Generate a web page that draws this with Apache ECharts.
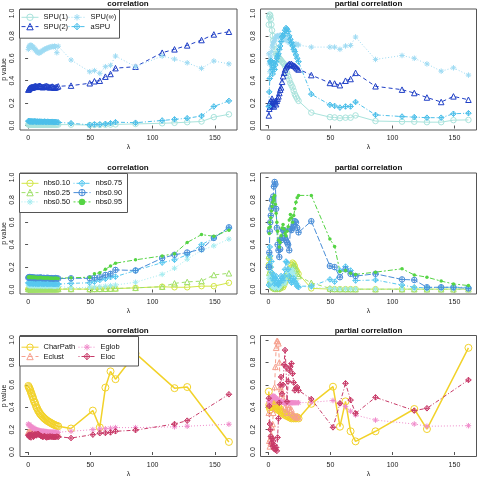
<!DOCTYPE html>
<html><head><meta charset="utf-8">
<script src="https://cdn.jsdelivr.net/npm/echarts@6/dist/echarts.min.js"></script>
<style>html,body{margin:0;padding:0;background:#fff}#c{width:478px;height:479px}</style>
</head><body><div id="c"></div>
<script>
// ---------- data ----------
const lambdaDense = [0.2,0.6,1.0,1.4,1.8, 2.3,2.8,3.3,3.8,4.3, 4.9,5.5,6.1,6.7,7.3, 8.0,8.7,9.4,10.1,10.9, 11.7,12.5,13.3,14.1,14.9, 15.8,16.7,17.6,18.5,19.4, 20.3,21.2,22.1,23.1,24.2];
const lambdaSparse = [34.5,49.5,53.3,57.6,62.1,66.2,70.2,86.3,107.7,117.6,127.8,139.3,149.2,161.3];
const lambdaSparseNet = [34.5,52.0,57.6,62.1,66.2,70.2,86.3,117.6,127.8,161.3];
const xTicks = [0,50,100,150];
const yTicks = [0,0.2,0.4,0.6,0.8,1.0];

// row 1: correlation
const spu1Cor = [0.010,0.008,0.009,0.007,0.008, 0.008,0.007,0.009,0.008,0.007, 0.008,0.009,0.008,0.007,0.008, 0.008,0.009,0.008,0.007,0.008, 0.008,0.007,0.008,0.009,0.008, 0.007,0.008,0.008,0.007,0.008, 0.009,0.008,0.007,0.008,0.008,
  0.008,0.004,0.006,0.006,0.007,0.008,0.010,0.014,0.020,0.024,0.030,0.036,0.075,0.100];
const spu2Cor = [0.320,0.325,0.330,0.335,0.338, 0.340,0.342,0.338,0.345,0.342, 0.348,0.350,0.352,0.348,0.345, 0.350,0.352,0.355,0.350,0.346, 0.342,0.345,0.348,0.350,0.352, 0.348,0.344,0.340,0.345,0.348, 0.342,0.338,0.340,0.345,0.350,
  0.356,0.377,0.395,0.400,0.436,0.460,0.512,0.525,0.650,0.680,0.715,0.763,0.813,0.837];
const spuInfCor = [0.680,0.695,0.705,0.715,0.712, 0.718,0.710,0.705,0.700,0.695, 0.688,0.680,0.672,0.665,0.658, 0.650,0.646,0.650,0.656,0.662, 0.668,0.674,0.680,0.684,0.688, 0.692,0.696,0.700,0.702,0.706, 0.703,0.708,0.704,0.650,0.708,
  0.585,0.480,0.490,0.466,0.525,0.537,0.620,0.525,0.620,0.593,0.560,0.510,0.576,0.550];
const aspuCor = [0.040,0.038,0.036,0.037,0.035, 0.038,0.036,0.034,0.037,0.035, 0.036,0.038,0.035,0.034,0.036, 0.035,0.033,0.036,0.034,0.035, 0.033,0.034,0.036,0.032,0.033, 0.035,0.031,0.033,0.032,0.034, 0.030,0.032,0.031,0.030,0.028,
  0.020,0.006,0.010,0.010,0.015,0.020,0.030,0.025,0.045,0.055,0.065,0.085,0.170,0.220];
// row 1: partial correlation
const spu1Par = [0.90,0.97,0.99,0.98,0.95, 0.90,0.85,0.80,0.76,0.72, 0.68,0.66,0.64,0.63,0.62, 0.61,0.60,0.59,0.58,0.57, 0.56,0.55,0.53,0.50,0.47, 0.44,0.41,0.38,0.36,0.34, 0.31,0.28,0.26,0.24,0.22,
  0.115,0.075,0.072,0.066,0.070,0.070,0.090,0.040,0.035,0.034,0.030,0.030,0.048,0.050];
const spu2Par = [0.09,0.15,0.20,0.17,0.22, 0.19,0.24,0.18,0.21,0.17, 0.20,0.22,0.19,0.22,0.24, 0.26,0.29,0.32,0.34,0.39, 0.44,0.47,0.50,0.52,0.53, 0.54,0.55,0.545,0.55,0.54, 0.535,0.53,0.52,0.51,0.50,
  0.450,0.380,0.375,0.360,0.400,0.415,0.470,0.350,0.320,0.290,0.250,0.210,0.260,0.230];
const spuInfPar = [0.64,0.55,0.48,0.58,0.62, 0.66,0.70,0.72,0.74,0.75, 0.76,0.78,0.79,0.80,0.80, 0.79,0.80,0.81,0.80,0.80, 0.79,0.78,0.77,0.76,0.76, 0.75,0.74,0.74,0.73,0.73, 0.72,0.72,0.73,0.72,0.72,
  0.700,0.700,0.700,0.680,0.710,0.715,0.790,0.590,0.625,0.600,0.550,0.485,0.515,0.450];
const aspuPar = [0.17,0.30,0.42,0.57,0.58, 0.55,0.50,0.46,0.52,0.56, 0.50,0.54,0.57,0.60,0.62, 0.64,0.68,0.71,0.75,0.79, 0.80,0.82,0.85,0.87,0.86, 0.84,0.80,0.77,0.74,0.71, 0.68,0.66,0.63,0.60,0.57,
  0.280,0.185,0.175,0.160,0.170,0.170,0.210,0.095,0.080,0.075,0.070,0.070,0.105,0.110];

// row 2: correlation
const nbs10Cor = [0.004,0.003,0.003,0.002,0.003, 0.003,0.002,0.003,0.003,0.002, 0.003,0.003,0.002,0.003,0.003, 0.002,0.003,0.003,0.002,0.003, 0.003,0.002,0.003,0.003,0.002, 0.003,0.003,0.002,0.003,0.003, 0.002,0.003,0.003,0.002,0.003,
  0.004,0.003,0.004,0.005,0.006,0.007,0.008,0.015,0.025,0.020,0.020,0.030,0.030,0.060];
const nbs25Cor = [0.006,0.005,0.005,0.004,0.005, 0.005,0.004,0.005,0.005,0.004, 0.005,0.005,0.004,0.005,0.005, 0.004,0.005,0.005,0.004,0.005, 0.005,0.004,0.005,0.005,0.004, 0.005,0.005,0.004,0.005,0.005, 0.004,0.005,0.005,0.004,0.005,
  0.005,0.004,0.005,0.006,0.007,0.008,0.010,0.015,0.025,0.055,0.068,0.075,0.130,0.145];
const nbs50Cor = [0.040,0.035,0.038,0.033,0.036, 0.034,0.037,0.032,0.035,0.033, 0.036,0.034,0.031,0.035,0.033, 0.030,0.034,0.032,0.035,0.031, 0.033,0.030,0.032,0.034,0.031, 0.029,0.032,0.030,0.033,0.031, 0.028,0.030,0.029,0.031,0.028,
  0.015,0.020,0.022,0.025,0.030,0.035,0.040,0.065,0.135,0.190,0.270,0.350,0.390,0.450];
const nbs75Cor = [0.060,0.055,0.058,0.052,0.056, 0.054,0.057,0.053,0.055,0.052, 0.056,0.054,0.051,0.055,0.053, 0.050,0.054,0.052,0.055,0.051, 0.053,0.050,0.052,0.054,0.051, 0.049,0.052,0.050,0.053,0.051, 0.048,0.050,0.049,0.051,0.048,
  0.055,0.060,0.070,0.085,0.095,0.110,0.115,0.170,0.240,0.265,0.310,0.400,0.460,0.545];
const nbs90Cor = [0.105,0.110,0.108,0.112,0.106, 0.110,0.104,0.108,0.106,0.102, 0.107,0.104,0.100,0.105,0.103, 0.106,0.102,0.104,0.108,0.103, 0.100,0.104,0.102,0.099,0.103, 0.105,0.101,0.098,0.102,0.100, 0.097,0.100,0.102,0.099,0.098,
  0.100,0.100,0.105,0.110,0.130,0.140,0.175,0.170,0.280,0.310,0.330,0.360,0.460,0.555];
const nbs95Cor = [0.112,0.108,0.115,0.110,0.113, 0.108,0.112,0.106,0.110,0.108, 0.111,0.107,0.104,0.109,0.106, 0.103,0.107,0.105,0.109,0.104, 0.102,0.106,0.104,0.100,0.103, 0.106,0.102,0.099,0.103,0.101, 0.098,0.101,0.103,0.100,0.099,
  0.105,0.110,0.140,0.150,0.180,0.210,0.235,0.265,0.300,0.320,0.420,0.490,0.475,0.530];
// row 2: partial correlation
const nbs10Par = [0.22,0.28,0.20,0.15,0.10, 0.06,0.04,0.02,0.01,0.01, 0.005,0.005,0.01,0.005,0.005, 0.01,0.005,0.01,0.02,0.03, 0.02,0.04,0.06,0.08,0.10, 0.13,0.16,0.19,0.22,0.24, 0.23,0.21,0.18,0.16,0.14,
  0.010,0.004,0.003,0.003,0.003,0.003,0.003,0.003,0.003,0.003,0.003,0.003,0.003,0.003];
const nbs25Par = [0.30,0.15,0.08,0.05,0.10, 0.06,0.03,0.05,0.02,0.04, 0.02,0.01,0.03,0.02,0.01, 0.02,0.03,0.02,0.04,0.06, 0.08,0.10,0.12,0.11,0.13, 0.15,0.16,0.14,0.18,0.20, 0.22,0.21,0.18,0.14,0.12,
  0.060,0.010,0.005,0.004,0.004,0.004,0.003,0.003,0.003,0.003,0.002,0.002,0.002,0.002];
const nbs50Par = [0.10,0.18,0.12,0.08,0.05, 0.03,0.06,0.04,0.02,0.03, 0.01,0.02,0.04,0.03,0.02, 0.01,0.02,0.03,0.05,0.08, 0.10,0.07,0.05,0.08,0.12, 0.15,0.17,0.16,0.14,0.18, 0.15,0.12,0.08,0.05,0.03,
  0.020,0.008,0.006,0.005,0.005,0.005,0.005,0.004,0.004,0.004,0.003,0.003,0.003,0.003];
const nbs75Par = [0.04,0.22,0.38,0.30,0.20, 0.25,0.15,0.10,0.13,0.08, 0.05,0.10,0.12,0.08,0.05, 0.04,0.06,0.08,0.12,0.10, 0.08,0.12,0.18,0.25,0.24, 0.18,0.12,0.08,0.06,0.08, 0.10,0.07,0.05,0.03,0.02,
  0.030,0.090,0.070,0.170,0.205,0.170,0.080,0.085,0.040,0.020,0.015,0.020,0.020,0.020];
const nbs90Par = [0.20,0.33,0.52,0.60,0.66, 0.72,0.80,0.75,0.83,0.92, 0.96,0.94,0.72,0.55,0.40, 0.35,0.29,0.36,0.44,0.46, 0.53,0.53,0.46,0.44,0.42, 0.40,0.35,0.54,0.53,0.55, 0.58,0.61,0.60,0.55,0.51,
  0.610,0.210,0.200,0.110,0.180,0.140,0.120,0.140,0.090,0.085,0.020,0.020,0.020,0.010];
const nbs95Par = [0.55,0.50,0.60,0.56,0.64, 0.70,0.74,0.78,0.82,0.80, 0.84,0.76,0.68,0.60,0.52, 0.44,0.38,0.42,0.48,0.55, 0.58,0.54,0.50,0.48,0.52, 0.56,0.62,0.67,0.64,0.60, 0.66,0.72,0.78,0.82,0.84,
  0.840,0.450,0.385,0.160,0.170,0.145,0.135,0.155,0.185,0.130,0.110,0.075,0.050,0.035];

// row 3: correlation
const charCor = [0.590,0.580,0.570,0.560,0.550, 0.530,0.520,0.500,0.490,0.470, 0.450,0.440,0.420,0.400,0.390, 0.370,0.360,0.345,0.335,0.325, 0.315,0.305,0.298,0.290,0.283, 0.276,0.270,0.264,0.258,0.252, 0.247,0.242,0.238,0.234,0.230,
  0.210,0.370,0.220,0.575,0.720,0.650,0.880,0.570,0.580,0.090];
const eclustCor = [0.180,0.178,0.182,0.176,0.180, 0.175,0.178,0.172,0.176,0.170, 0.174,0.172,0.168,0.170,0.166, 0.168,0.165,0.166,0.164,0.165, 0.163,0.164,0.162,0.163,0.161, 0.162,0.160,0.161,0.160,0.159, 0.160,0.158,0.159,0.157,0.158];
const eglobCor = [0.250,0.245,0.240,0.236,0.232, 0.228,0.224,0.220,0.216,0.212, 0.208,0.205,0.202,0.199,0.196, 0.194,0.192,0.190,0.188,0.187, 0.186,0.185,0.184,0.183,0.182, 0.181,0.180,0.180,0.179,0.178, 0.178,0.177,0.177,0.176,0.176,
  0.185,0.200,0.205,0.208,0.212,0.218,0.218,0.225,0.230,0.248];
const elocCor = [0.150,0.145,0.135,0.155,0.140, 0.130,0.150,0.160,0.145,0.135, 0.150,0.158,0.155,0.148,0.160, 0.162,0.155,0.150,0.145,0.140, 0.135,0.138,0.142,0.135,0.130, 0.138,0.133,0.140,0.135,0.138, 0.132,0.136,0.134,0.138,0.135,
  0.125,0.155,0.168,0.170,0.175,0.185,0.195,0.250,0.280,0.515];
// row 3: partial correlation
const charPar = [0.54,0.42,0.40,0.38,0.41, 0.43,0.40,0.42,0.44,0.43, 0.42,0.40,0.41,0.39,0.38, 0.40,0.37,0.38,0.36,0.35, 0.34,0.35,0.33,0.34,0.32, 0.33,0.31,0.32,0.30,0.31, 0.30,0.31,0.30,0.31,0.30,
  0.430,0.583,0.226,0.452,0.185,0.095,0.185,0.384,0.205,0.930];
const eclustPar = [0.35,0.10,0.05,0.12,0.08, 0.15,0.22,0.25,0.35,0.45, 0.58,0.76,0.93,0.99,0.99, 0.97,0.80,0.58,0.56,0.52, 0.48,0.45,0.40,0.38,0.35, 0.42,0.40,0.36,0.38,0.34, 0.33,0.32,0.31,0.32,0.31];
const eglobPar = [0.45,0.42,0.44,0.46,0.47, 0.48,0.49,0.50,0.49,0.50, 0.49,0.48,0.48,0.47,0.47, 0.46,0.46,0.45,0.45,0.45, 0.44,0.44,0.44,0.44,0.44, 0.44,0.44,0.44,0.44,0.44, 0.44,0.44,0.44,0.44,0.44,
  0.443,0.460,0.430,0.405,0.365,0.330,0.285,0.250,0.230,0.235];
const elocPar = [0.48,0.41,0.25,0.20,0.14, 0.08,0.12,0.05,0.10,0.03, 0.06,0.02,0.04,0.01,0.13, 0.30,0.44,0.60,0.67,0.52, 0.60,0.78,0.91,0.76,0.45, 0.63,0.73,0.76,0.79,0.70, 0.62,0.55,0.57,0.58,0.55,
  0.473,0.220,0.435,0.613,0.464,0.345,0.488,0.370,0.390,0.643];

// legend columns (R legend, ncol = 2)
const legendCols = [
  [['SPU(1)','SPU(2)'], ['SPU(∞)','aSPU']],
  [['nbs0.10','nbs0.25','nbs0.50'], ['nbs0.75','nbs0.90','nbs0.95']],
  [['CharPath','Eclust'], ['Eglob','Eloc']]
];

// ---------- styles ----------
const FONT = '"Liberation Sans", Arial, Helvetica, sans-serif';
const STAR = 'path://M5 0 L5 10 M0 5 L10 5 M1.46 1.46 L8.54 8.54 M1.46 8.54 L8.54 1.46';
const DPLUS = 'path://M5 0 L10 5 L5 10 L0 5 Z M5 0 L5 10 M0 5 L10 5';
const CPLUS = 'path://M0 5 A5 5 0 1 0 10 5 A5 5 0 1 0 0 5 Z M5 0 L5 10 M0 5 L10 5';
const styleOf = {
  'SPU(1)':  {color:'#a9e3dc', symbol:'circle',   dash:'solid'},
  'SPU(2)':  {color:'#1f3fc6', symbol:'triangle', dash:[4,3]},
  'SPU(∞)':  {color:'#9edbf3', symbol:STAR,       dash:[1,2]},
  'aSPU':    {color:'#4cbfea', symbol:DPLUS,      dash:[1,2,4,2]},
  'nbs0.10': {color:'#d2e646', symbol:'circle',   dash:'solid'},
  'nbs0.25': {color:'#9fe06a', symbol:'triangle', dash:[4,3]},
  'nbs0.50': {color:'#a4ecf0', symbol:STAR,       dash:[1,2]},
  'nbs0.75': {color:'#58c8f0', symbol:DPLUS,      dash:[1,2,4,2]},
  'nbs0.90': {color:'#4a8ed8', symbol:CPLUS,      dash:[6,2]},
  'nbs0.95': {color:'#55d444', symbol:'circle',   dash:[2,2,5,2], filled:true, size:3.5},
  'CharPath':{color:'#f2d22a', symbol:'circle',   dash:'solid', size:7, width:1.5},
  'Eclust':  {color:'#f6a08e', symbol:'triangle', dash:[4,3]},
  'Eglob':   {color:'#f08ccb', symbol:STAR,       dash:[1,2]},
  'Eloc':    {color:'#c83a68', symbol:DPLUS,      dash:[1,2,4,2]}
};

const lamAll = lambdaDense.concat(lambdaSparse);
const lamNet = lambdaDense.concat(lambdaSparseNet);
function zip(lx, vals){ return vals.map((v,i)=>[lx[i], v]); }

const panels = [
  {title:'correlation', lx:lamAll, s:[['SPU(1)',spu1Cor],['SPU(2)',spu2Cor],['SPU(∞)',spuInfCor],['aSPU',aspuCor]]},
  {title:'partial correlation', lx:lamAll, s:[['SPU(1)',spu1Par],['SPU(2)',spu2Par],['SPU(∞)',spuInfPar],['aSPU',aspuPar]]},
  {title:'correlation', lx:lamAll, s:[['nbs0.10',nbs10Cor],['nbs0.25',nbs25Cor],['nbs0.50',nbs50Cor],['nbs0.75',nbs75Cor],['nbs0.90',nbs90Cor],['nbs0.95',nbs95Cor]]},
  {title:'partial correlation', lx:lamAll, s:[['nbs0.10',nbs10Par],['nbs0.25',nbs25Par],['nbs0.50',nbs50Par],['nbs0.75',nbs75Par],['nbs0.90',nbs90Par],['nbs0.95',nbs95Par]]},
  {title:'correlation', lx:lamNet, s:[['CharPath',charCor],['Eclust',eclustCor],['Eglob',eglobCor],['Eloc',elocCor]]},
  {title:'partial correlation', lx:lamNet, s:[['CharPath',charPar],['Eclust',eclustPar],['Eglob',eglobPar],['Eloc',elocPar]]}
];

// ---------- layout ----------
const GL = [19, 260.5], GW = [218, 216], GT = [9, 173, 335.5], GH = 121;
const grids = [], xAxes = [], yAxes = [], series = [], graphics = [];
panels.forEach((p, k) => {
  const row = Math.floor(k/2), col = k%2;
  grids.push({left:GL[col], top:GT[row], width:GW[col], height:GH, show:true,
    borderColor:'#555', borderWidth:1, backgroundColor:'transparent'});
  xAxes.push({gridIndex:k, type:'value', min:-6.5, max:167.8,
    axisLine:{show:false}, splitLine:{show:false},
    axisTick:{show:true, length:3, customValues:xTicks, lineStyle:{color:'#555', width:1}},
    axisLabel:{customValues:xTicks, fontSize:7, margin:5, color:'#222', fontFamily:FONT},
    name:'λ', nameLocation:'middle', nameGap:14,
    nameTextStyle:{fontSize:7, color:'#222', fontFamily:FONT}});
  const ya = {gridIndex:k, type:'value', min:-0.04, max:1.04,
    axisLine:{show:false}, splitLine:{show:false},
    axisTick:{show:true, length:3, customValues:yTicks, lineStyle:{color:'#555', width:1}},
    axisLabel:{customValues:yTicks, fontSize:7, margin:4, rotate:90, color:'#222', fontFamily:FONT,
      formatter:v=>Number(v).toFixed(1)}};
  if (col === 0) {
    ya.name = 'p value'; ya.nameLocation = 'middle'; ya.nameGap = 12; ya.nameRotate = 90;
    ya.nameTextStyle = {fontSize:7, color:'#222', fontFamily:FONT};
  }
  yAxes.push(ya);
  graphics.push({type:'text', x:GL[col]+GW[col]/2, y:GT[row]-5,
    style:{text:p.title, font:'bold 8px '+FONT, fill:'#111',
      textAlign:'center', textVerticalAlign:'middle', align:'center', verticalAlign:'middle'}});
  p.s.forEach(([name, vals]) => {
    const st = styleOf[name];
    series.push({type:'line', name, xAxisIndex:k, yAxisIndex:k,
      data: zip(p.lx, vals),
      symbol: st.symbol, symbolSize: st.size || 5.5, symbolKeepAspect:true,
      itemStyle: st.filled ? {color:st.color, borderWidth:0}
                           : {color:'rgba(255,255,255,0)', borderColor:st.color, borderWidth:1},
      lineStyle:{color:st.color, width:st.width || 1, type:st.dash},
      emphasis:{disabled:true}, animation:false});
  });
});

// legend boxes (white, bordered) + one legend component per column
const legBox = [
  {y:9, w:100, h:28.7, itemTop:13.3, col2:68},
  {y:173, w:108, h:39, itemTop:179.3, col2:73},
  {y:336, w:119, h:29.5, itemTop:343.2, col2:78}
];
const legends = [];
legBox.forEach((b, r) => {
  graphics.push({type:'rect', z:50, shape:{x:19.5, y:b.y+0.5, width:b.w, height:b.h},
    style:{fill:'#fff', stroke:'#555', lineWidth:1}});
  legendCols[r].forEach((names, c) => {
    legends.push({data:names, left:c === 0 ? 21 : b.col2, top:b.itemTop, orient:'vertical',
      selectedMode:false, padding:0, itemGap:1.3, itemWidth:17, itemHeight:8, z:60,
      itemStyle:{borderWidth:1}, lineStyle:{width:1},
      textStyle:{fontSize:7.5, color:'#111', fontFamily:FONT}});
  });
});

const chart = echarts.init(document.getElementById('c'), null, {renderer:'canvas'});
chart.setOption({
  animation:false,
  backgroundColor:'#fff',
  textStyle:{fontFamily:FONT},
  grid:grids, xAxis:xAxes, yAxis:yAxes, series,
  legend:legends,
  graphic:graphics
});
</script>
</body></html>
